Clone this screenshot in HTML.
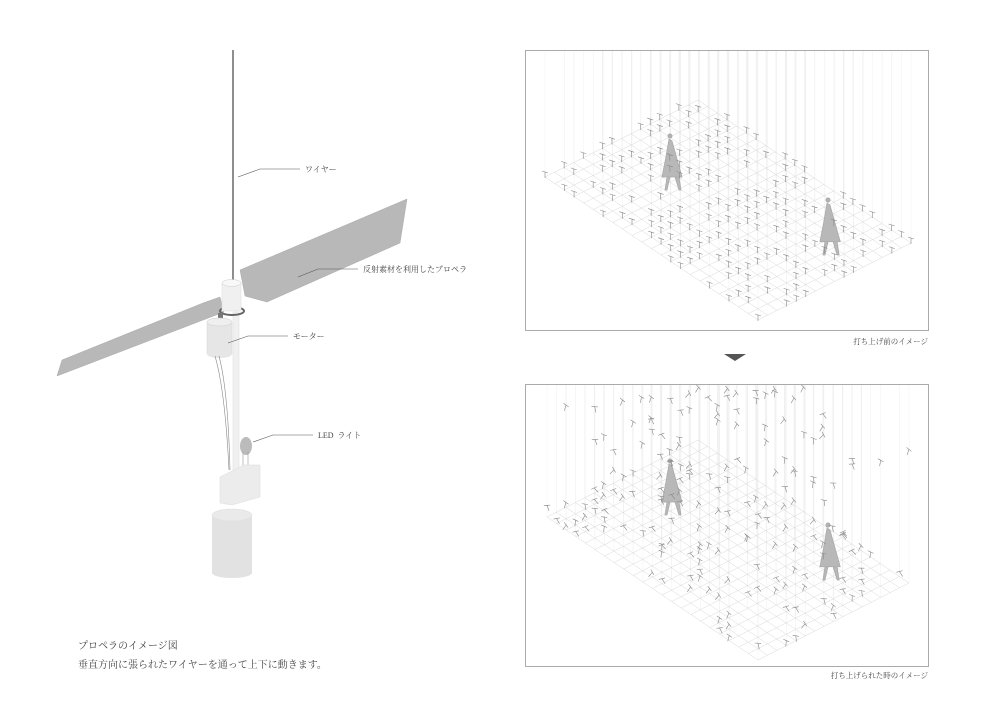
<!DOCTYPE html>
<html><head><meta charset="utf-8">
<style>
html,body{margin:0;padding:0;background:#fff;}
body{width:1000px;height:707px;overflow:hidden;position:relative;font-family:"Liberation Serif","Noto Serif CJK SC","Noto Sans CJK JP",serif;color:#333;}
.t{position:absolute;font-size:8px;white-space:nowrap;color:#444;}
</style></head><body>
<svg id="s" width="1000" height="707" style="position:absolute;left:0;top:0">
<line x1="233" y1="50" x2="233" y2="285" stroke="#444" stroke-width="1.2"/>
<polygon points="240,270 407,199 400,243 267,302 245,296" fill="#b8b8b8" stroke="#aaa" stroke-width="0.5"/>
<polygon points="57,376 62,360 203,303 220,297 224,312" fill="#b8b8b8" stroke="#aaa" stroke-width="0.5"/>
<rect x="233" y="312" width="6" height="165" fill="#f0f0f0" stroke="#ddd" stroke-width="0.5"/>
<ellipse cx="232" cy="311" rx="12" ry="4" fill="none" stroke="#666" stroke-width="2"/>
<rect x="222" y="283" width="19" height="28" fill="#f0f0f0" stroke="#ddd" stroke-width="0.5"/>
<ellipse cx="231.5" cy="283" rx="9.5" ry="3.5" fill="#f8f8f8" stroke="#ccc" stroke-width="0.5"/>
<rect x="218" y="313" width="5" height="9" fill="#777"/>
<rect x="207" y="322" width="25" height="32" fill="#e6e6e6" stroke="#d5d5d5" stroke-width="0.5"/>
<ellipse cx="219.5" cy="322" rx="12.5" ry="4" fill="#efefef" stroke="#ccc" stroke-width="0.5"/>
<ellipse cx="219.5" cy="354" rx="12.5" ry="4" fill="#e6e6e6"/>
<path d="M215,356 Q225,390 229,470 M219,356 Q228,390 230,470" stroke="#888" stroke-width="0.6" fill="none"/>
<ellipse cx="246" cy="446" rx="6" ry="9" fill="#bbb"/>
<line x1="243" y1="452" x2="243" y2="468" stroke="#999" stroke-width="0.6"/>
<line x1="248" y1="452" x2="248" y2="468" stroke="#999" stroke-width="0.6"/>
<polygon points="220,477 244,465 260,465 260,497 232,505 220,503" fill="#ececec" stroke="#ddd" stroke-width="0.5"/>
<rect x="212" y="515" width="40" height="58" fill="#e2e2e2"/>
<ellipse cx="232" cy="573" rx="20" ry="5" fill="#e2e2e2"/>
<ellipse cx="232" cy="515" rx="20" ry="6" fill="#eaeaea" stroke="#ddd" stroke-width="0.5"/>
<polyline points="238,177 260,169 300,169" stroke="#555" stroke-width="0.6" fill="none"/>
<polyline points="298,277 318,269 358,269" stroke="#555" stroke-width="0.6" fill="none"/>
<polyline points="228,343 248,336 288,336" stroke="#555" stroke-width="0.6" fill="none"/>
<polyline points="253,442 273,435 313,435" stroke="#555" stroke-width="0.6" fill="none"/>
<rect x="525.5" y="50.5" width="403" height="280" fill="none" stroke="#aaa" stroke-width="1"/>
<rect x="525.5" y="384.5" width="403" height="282" fill="none" stroke="#aaa" stroke-width="1"/>
<polygon points="724,354 746,354 735,361" fill="#555"/>
<g id="p1"></g><g id="p2"></g>
</svg>
<div class="t" style="left:305px;top:164px">ワイヤー</div>
<div class="t" style="left:363px;top:264px">反射素材を利用したプロペラ</div>
<div class="t" style="left:293px;top:331px">モーター</div>
<div class="t" style="left:318px;top:430px">LED&nbsp; ライト</div>
<div class="t" style="left:78px;top:637px;font-size:10px">プロペラのイメージ図</div>
<div class="t" style="left:78px;top:656px;font-size:10px">垂直方向に張られたワイヤーを通って上下に動きます。</div>
<div class="t" style="right:72px;top:336px;font-size:7.5px">打ち上げ前のイメージ</div>
<div class="t" style="right:72px;top:670px;font-size:7.5px">打ち上げられた時のイメージ</div>
<script>
var NS="http://www.w3.org/2000/svg";
var seed=7;function rnd(){seed=(seed*16807)%2147483647;return seed/2147483647;}
function el(g,n,a){var e=document.createElementNS(NS,n);for(var k in a)e.setAttribute(k,a[k]);g.appendChild(e);return e;}
function panel(id,L,top,floating,p1y,p2y){
 var g=document.getElementById(id);
 var T=[698,L[1]-77],Bt=[758,L[1]+143];
 var u=[(T[0]-L[0]),(T[1]-L[1])], v=[(Bt[0]-L[0]),(Bt[1]-L[1])];
 var nu=16,nv=22;
 function P(i,j){return [L[0]+u[0]*i/nu+v[0]*j/nv, L[1]+u[1]*i/nu+v[1]*j/nv];}
 var pts=[];
 for(var i=0;i<=nu;i++)for(var j=0;j<=nv;j++){if(rnd()<0.5)pts.push(P(i,j));}
 pts.forEach(function(p){el(g,"line",{x1:p[0],y1:top,x2:p[0],y2:p[1],stroke:"#f0f0f0","stroke-width":0.5});});
 for(var i=0;i<=nu;i++){var a=P(i,0),b=P(i,nv);el(g,"line",{x1:a[0],y1:a[1],x2:b[0],y2:b[1],stroke:"#d8d8d8","stroke-width":0.5});}
 for(var j=0;j<=nv;j++){var a=P(0,j),b=P(nu,j);el(g,"line",{x1:a[0],y1:a[1],x2:b[0],y2:b[1],stroke:"#d8d8d8","stroke-width":0.5});}
 function person(x,y,h){var s=h/57;
  el(g,"path",{d:"M"+(x+1)+","+(y+6*s)+" L"+(x+4)+","+(y+8*s)+" L"+(x+14*s)+","+(y+44*s)+" L"+(x-6*s)+","+(y+44*s)+" Q"+(x-2*s)+","+(y+25*s)+" "+(x+1)+","+(y+6*s)+" Z M"+(x-1*s)+","+(y+44*s)+" l-2,"+(13*s)+" l2,0 l3,"+(-13*s)+" M"+(x+7*s)+","+(y+44*s)+" l4,"+(13*s)+" l2,0 l-2,"+(-13*s),fill:"#b8b8b8",stroke:"#aaa","stroke-width":0.8});
  el(g,"circle",{cx:x+2,cy:y+3*s,r:2.5*s,fill:"#b0b0b0"});}
 person(668,p1y,57);
 person(826,p2y,58);
 pts.forEach(function(p){
  var x=p[0],y=p[1];
  if(floating&&rnd()<0.55){y=y-rnd()*150;if(y<top+5)y=top+5+rnd()*20;}
  var r=floating?(rnd()-0.5)*1.6:0;
  var gg=el(g,"g",{transform:"translate("+x+","+(y-5)+") rotate("+(r*57)+")"});
  el(gg,"path",{d:"M-3,-1 L3,1 M0,0 L0,6",stroke:"#888","stroke-width":0.6,fill:"none"});
 });
}
panel("p1",[545,177],51,false,133,197);
panel("p2",[547,517],385,true,458,522);
</script>
</body></html>
